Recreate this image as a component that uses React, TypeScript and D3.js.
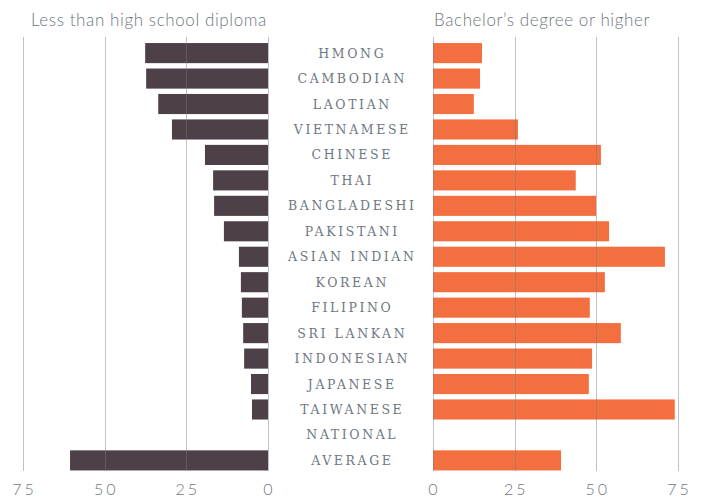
import * as d3 from 'd3';
import React, { useRef, useEffect } from 'react';

const groups = [
  'HMONG', 'CAMBODIAN', 'LAOTIAN', 'VIETNAMESE', 'CHINESE', 'THAI',
  'BANGLADESHI', 'PAKISTANI', 'ASIAN INDIAN', 'KOREAN', 'FILIPINO',
  'SRI LANKAN', 'INDONESIAN', 'JAPANESE', 'TAIWANESE', 'NATIONAL', 'AVERAGE'
];

// less than high school diploma (%)
const lessThanHS = [
  37.6, 37.3, 33.6, 29.4, 19.3, 16.8, 16.5, 13.5, 8.9, 8.3, 8.0,
  7.6, 7.3, 5.2, 4.9, null, 60.6
];

// bachelor's degree or higher (%)
const bachelors = [
  15.0, 14.4, 12.5, 26.0, 51.4, 43.7, 49.9, 53.9, 71.0, 52.6, 48.0,
  57.5, 48.7, 47.7, 74.0, null, 39.2
];

const ticks = [0, 25, 50, 75];

const DARK = '#4e4048';
const ORANGE = '#f36f40';
const SANS = 'Lato, "Open Sans", sans-serif';
const SERIF = '"DejaVu Serif", "Liberation Serif", serif';

const App = () => {
  const ref = useRef<SVGSVGElement>(null);

  useEffect(() => {
    const svg = d3.select(ref.current);
    svg.selectAll('*').remove();

    const y = d3.scaleBand<string>()
      .domain(groups)
      .range([40.5, 473])
      .paddingInner(0.21)
      .paddingOuter(0.1);

    const xl = d3.scaleLinear().domain([0, 75]).range([268, 23]);
    const xr = d3.scaleLinear().domain([0, 75]).range([433, 678]);

    const rows = groups.map((g, i) => ({ g, left: lessThanHS[i], right: bachelors[i] }));

    svg.append('g').selectAll('rect')
      .data(rows.filter(d => d.left != null))
      .enter().append('rect')
      .attr('x', d => xl(d.left as number))
      .attr('y', d => y(d.g) as number)
      .attr('width', d => xl(0) - xl(d.left as number))
      .attr('height', y.bandwidth())
      .attr('fill', DARK);

    svg.append('g').selectAll('rect')
      .data(rows.filter(d => d.right != null))
      .enter().append('rect')
      .attr('x', xr(0))
      .attr('y', d => y(d.g) as number)
      .attr('width', d => xr(d.right as number) - xr(0))
      .attr('height', y.bandwidth())
      .attr('fill', ORANGE);

    // grid lines over the bars
    const grid = svg.append('g')
      .attr('stroke', '#777')
      .attr('stroke-opacity', 0.45)
      .attr('stroke-width', 1);
    for (const [scale, side] of [[xl, 'l'], [xr, 'r']] as const) {
      grid.selectAll(`line.${side}`)
        .data(ticks)
        .enter().append('line')
        .attr('class', side)
        .attr('x1', d => Math.round(scale(d)) + 0.5)
        .attr('x2', d => Math.round(scale(d)) + 0.5)
        .attr('y1', 37)
        .attr('y2', 471);
    }

    for (const scale of [xl, xr]) {
      svg.append('g').selectAll('text')
        .data(ticks)
        .enter().append('text')
        .attr('x', d => scale(d))
        .attr('dx', 1.5)
        .attr('y', 495)
        .attr('text-anchor', 'middle')
        .attr('font-family', SANS)
        .attr('font-weight', 300)
        .attr('font-size', 16)
        .attr('letter-spacing', 3)
        .attr('fill', '#6d7680')
        .text(d => d);
    }

    svg.append('g').selectAll('text')
      .data(groups)
      .enter().append('text')
      .attr('x', 351)
      .attr('dx', 1.3)
      .attr('y', d => (y(d) as number) + y.bandwidth() / 2 + 4.5)
      .attr('text-anchor', 'middle')
      .attr('font-family', SERIF)
      .attr('font-size', 12.5)
      .attr('letter-spacing', 2.6)
      .attr('fill', '#6e7782')
      .text(d => d);

    svg.append('text')
      .attr('x', 31)
      .attr('y', 26)
      .attr('font-family', SANS)
      .attr('font-weight', 300)
      .attr('font-size', 17)
      .attr('letter-spacing', 0.6)
      .attr('fill', '#6d7680')
      .text('Less than high school diploma');

    svg.append('text')
      .attr('x', 434)
      .attr('y', 26)
      .attr('font-family', SANS)
      .attr('font-weight', 300)
      .attr('font-size', 17)
      .attr('letter-spacing', 0.6)
      .attr('fill', '#6d7680')
      .text('Bachelor\u2019s degree or higher');
  }, []);

  return (
    <svg
      ref={ref}
      width={704}
      height={498}
      style={{ position: 'absolute', left: 0, top: 0, background: '#fff' }}
    />
  );
};

export default App;
